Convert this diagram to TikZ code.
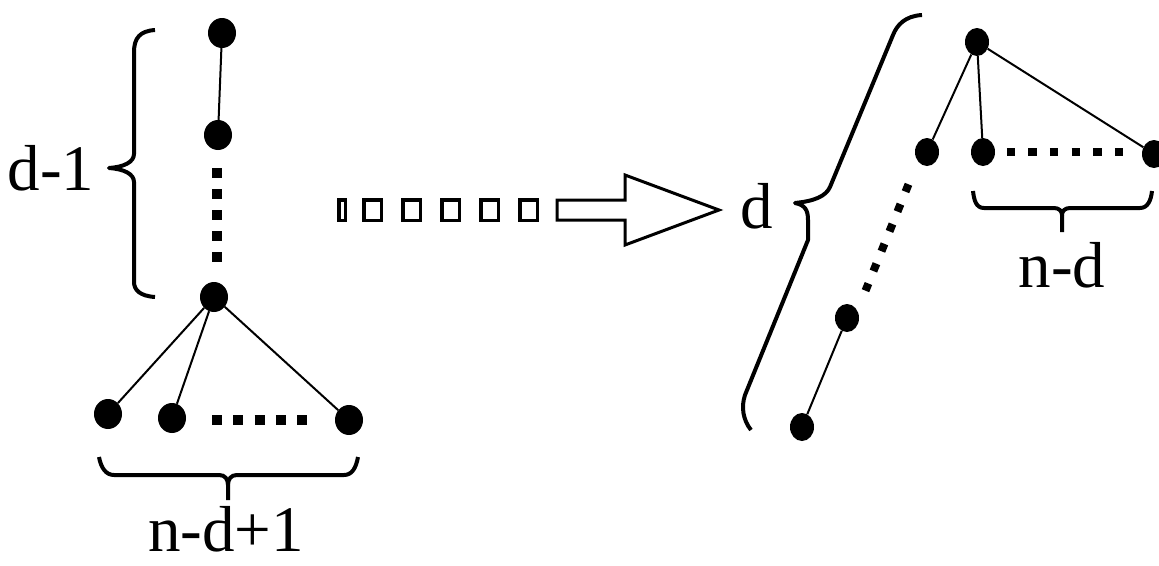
\documentclass[tikz,border=0pt]{standalone}
\usepackage{fontspec}
\setmainfont{Liberation Serif}
\usetikzlibrary{shapes.geometric}
\begin{document}
\begin{tikzpicture}[x=1pt,y=-1pt,
  ldot/.style={ellipse,fill=black,inner sep=0pt,minimum width=28pt,minimum height=30pt},
  rdot/.style={ellipse,fill=black,inner sep=0pt,minimum width=24pt,minimum height=28pt},
  edge/.style={line width=2pt},
  sqdots/.style={line width=10pt,dash pattern=on 10pt off 11pt},
  rsqdots/.style={line width=8.5pt,dash pattern=on 8.5pt off 13.1pt},
  brc/.style={line width=4pt,line join=round},
  box/.style={line width=3.5pt},
  lbl/.style={inner sep=0pt,anchor=base,font=\fontsize{65}{72}\selectfont}]
\useasboundingbox (0,0) rectangle (1159,565);
% left graph
\node[ldot] (a1) at (222,33) {};
\node[ldot] (a2) at (218,135) {};
\node[ldot] (a3) at (214,297) {};
\node[ldot] (b1) at (108,414) {};
\node[ldot] (b2) at (172,418) {};
\node[ldot] (b3) at (349,420) {};
\draw[edge] (a1) -- (a2);
\draw[edge] (a3) -- (b1);
\draw[edge] (a3) -- (b2);
\draw[edge] (a3) -- (b3);
\coordinate (v1) at (217,168);
\coordinate (v2) at (217,263);
\draw[sqdots] (v1) -- (v2);
\coordinate (h1) at (212,420);
\coordinate (h2) at (308,420);
\draw[sqdots,dash pattern=on 10pt off 11.25pt] (h1) -- (h2);
% left brace
\draw[brc] (155,30) .. controls (140,31) and (134,38) .. (134,52) -- (134,154)
  .. controls (134,162) and (124,167) .. (109,168)
  .. controls (124,169) and (134,174) .. (134,182) -- (134,282)
  .. controls (134,290) and (140,296) .. (155,297);
\node[lbl] (t1) at (51,190) {d-1};
% bottom brace
\draw[brc] (99,457) .. controls (101,468) and (106,475) .. (114,475) -- (219,475)
  .. controls (225,475) and (228,479) .. (228,485) -- (228,500);
\draw[brc] (228,485) .. controls (228,479) and (231,475) .. (237,475) -- (344,475)
  .. controls (352,475) and (356,468) .. (358,457);
\node[lbl] (t2) at (226,551) {n-d+1};
% arrow
\foreach \xa/\xb in {338.75/345.25, 363.75/381.25, 402.75/420.25, 441.75/459.25, 480.75/498.25, 519.75/537.25}
  \draw[box] (\xa,199.75) rectangle (\xb,220.25);
\draw[box,line width=3pt] (557,200) -- (625,200) -- (625,175) -- (719,210) -- (625,245) -- (625,220) -- (557,220) -- cycle;
% right graph
\node[rdot] (c0) at (977,42) {};
\node[rdot] (c1) at (927,152) {};
\node[rdot] (c2) at (983,152) {};
\node[rdot] (c3) at (1154,154) {};
\node[rdot] (c4) at (847,318) {};
\node[rdot] (c5) at (802,427) {};
\draw[edge] (c0) -- (c1);
\draw[edge] (c0) -- (c2);
\draw[edge] (c0) -- (c3);
\draw[edge] (c4) -- (c5);
\coordinate (r1) at (1006.75,152);
\coordinate (r2) at (1124,152);
\draw[rsqdots] (r1) -- (r2);
\coordinate (d1) at (908.5,184.3);
\coordinate (d2) at (865.5,290.7);
\draw[line width=8pt,dash pattern=on 8pt off 13.4pt] (d1) -- (d2);
% tilted brace
\draw[brc] (922,15) .. controls (905,16) and (897,25) .. (893,35) -- (830,187)
  .. controls (826,196) and (815,201) .. (795,203)
  .. controls (805,205) and (808,210) .. (808,220) -- (808,240) -- (745,395)
  .. controls (741,407) and (743,420) .. (751,430);
\node[lbl] (t3) at (757,228) {d};
% n-d brace
\draw[brc] (973,191) .. controls (974,200) and (976,208) .. (984,208) -- (1054,208)
  .. controls (1059,208) and (1062,211) .. (1062,215) -- (1062,232);
\draw[brc] (1062,215) .. controls (1062,211) and (1065,208) .. (1070,208) -- (1140,208)
  .. controls (1148,208) and (1151,200) .. (1152,191);
\node[lbl] (t4) at (1062,287) {n-d};
\end{tikzpicture}
\end{document}
